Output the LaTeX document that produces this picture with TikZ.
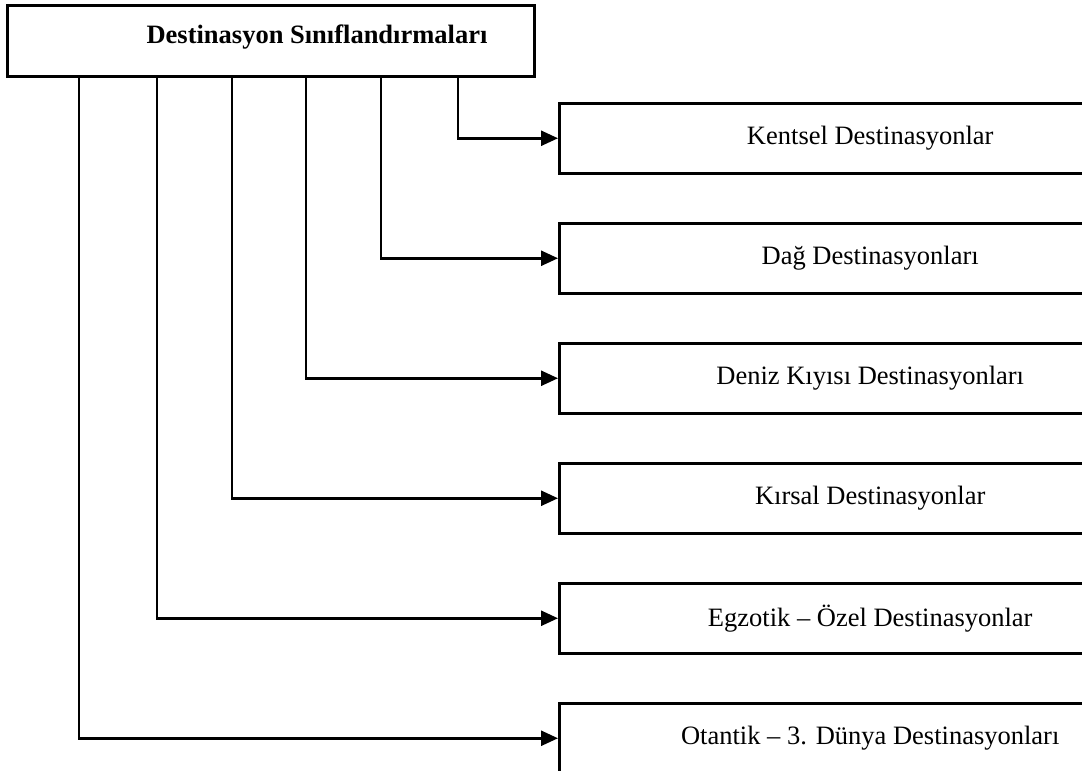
\documentclass[tikz,border=0pt]{standalone}
\usepackage{fontspec}
\setmainfont{Liberation Serif}
\usetikzlibrary{arrows.meta}
\begin{document}
\begin{tikzpicture}[x=1pt,y=-1pt,
  every node/.style={font=\fontsize{26.5}{30}\selectfont},
  rbox/.style={draw=black,line width=2.5pt,minimum width=622pt,minimum height=70pt,anchor=north west,inner sep=0pt},
  tbox/.style={draw=black,line width=2.5pt,minimum width=527pt,minimum height=71pt,anchor=north west,inner sep=0pt},
  conn/.style={draw=black,line width=2.5pt,-{Triangle[length=17pt,width=15pt]}}]
\clip (0,0) rectangle (1082,771);
\fill[white] (0,0) rectangle (1082,771);
\node[tbox] (top) at (6,4) {};
\node[font=\fontsize{26.5}{30}\selectfont\bfseries] (toptext) at (317,37) {Destinasyon Sınıflandırmaları};
\node[rbox] (b1) at (558,102) {Kentsel Destinasyonlar};
\node[rbox] (b2) at (558,222) {Dağ Destinasyonları};
\node[rbox] (b3) at (558,342) {Deniz Kıyısı Destinasyonları};
\node[rbox] (b4) at (558,462) {Kırsal Destinasyonlar};
\node[rbox] (b5) at (558,582) {Egzotik – Özel Destinasyonlar};
\node[rbox] (b6) at (558,702) {Otantik – 3. Dünya Destinasyonları};
\coordinate (v1) at (458,0);
\coordinate (v2) at (381,0);
\coordinate (v3) at (306,0);
\coordinate (v4) at (232,0);
\coordinate (v5) at (157,0);
\coordinate (v6) at (79,0);
\draw[conn] (top.south -| v1) |- (b1.west);
\draw[conn] (top.south -| v2) |- (b2.west);
\draw[conn] (top.south -| v3) |- (b3.west);
\draw[conn] (top.south -| v4) |- (b4.west);
\draw[conn] (top.south -| v5) |- (b5.west);
\draw[conn] (top.south -| v6) |- (b6.west);
\end{tikzpicture}
\end{document}
